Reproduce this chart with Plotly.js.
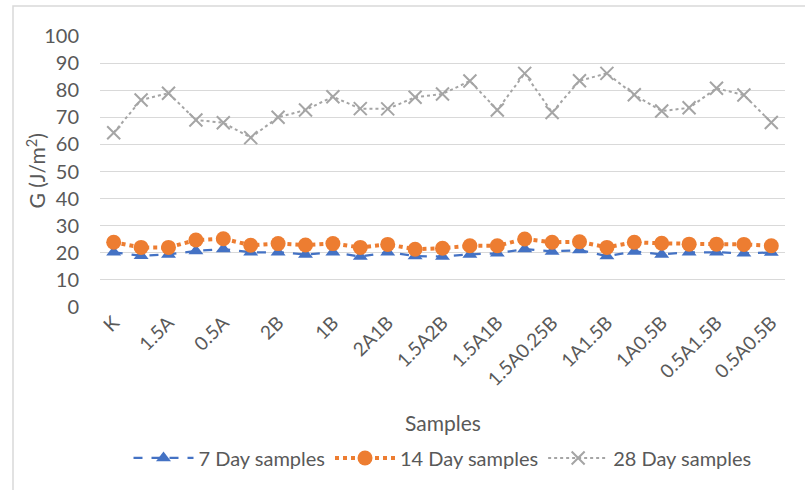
<!DOCTYPE html>
<html>
<head>
<meta charset="utf-8">
<script src="https://cdn.plot.ly/plotly-3.0.1.min.js"></script>
<style>html,body{margin:0;padding:0;background:#fff;}#chart{width:805px;height:490px;}</style>
</head>
<body>
<div id="chart"></div>
<script>
const samples = ["K","2A","1.5A","1A","0.5A","0.25A","2B","1.5B","1B","0.5B","2A1B","2A0.5B","1.5A2B","1.5A1.5B","1.5A1B","1.5A0.5B","1.5A0.25B","1A2B","1A1.5B","1A1B","1A0.5B","0.5A2B","0.5A1.5B","0.5A1B","0.5A0.5B"];
const day7 = [20.2,18.9,19.4,20.7,21.4,20.2,20.2,19.4,20.2,18.6,20.2,18.8,18.6,19.4,19.8,21.4,20.5,21.0,18.8,20.5,19.4,20.2,20.2,19.8,20.1];
const day14 = [23.9,22.0,22.0,24.7,25.2,22.8,23.4,22.9,23.4,22.0,23.1,21.3,21.7,22.6,22.6,25.1,23.9,24.1,22.0,23.9,23.5,23.2,23.2,23.1,22.6];
const day28 = [64.3,76.4,78.9,69.0,68.0,62.5,70.0,72.7,77.6,73.2,73.1,77.4,78.6,83.4,72.7,86.2,71.8,83.5,86.2,78.3,72.3,73.5,80.7,78.2,68.1];
const shownLabels = samples.filter((s, i) => i % 2 === 0);

const font = "Lato, 'Open Sans', sans-serif";
const grey = "#595959";

const traces = [
  {x: samples, y: day7, name: "7 Day samples", type: "scatter", mode: "lines+markers",
   line: {color: "#4472C4", width: 2.25, dash: "dash"},
   marker: {symbol: "triangle-up", size: 13, color: "#4472C4"}},
  {x: samples, y: day14, name: "14 Day samples", type: "scatter", mode: "lines+markers",
   line: {color: "#ED7D31", width: 4, dash: "dot"},
   marker: {symbol: "circle", size: 15, color: "#ED7D31"}},
  {x: samples, y: day28, name: "28 Day samples", type: "scatter", mode: "lines+markers",
   line: {color: "#A5A5A5", width: 2, dash: "dot"},
   marker: {symbol: "x-thin-open", size: 13, color: "#A5A5A5", line: {color: "#A5A5A5", width: 2}}}
];

const layout = {
  width: 805, height: 490,
  margin: {l: 100, r: 20, t: 36, b: 183},
  paper_bgcolor: "#fff", plot_bgcolor: "#fff",
  font: {family: font, color: grey},
  showlegend: true,
  legend: {orientation: "h", x: 0.5, xanchor: "center", y: -0.557, yanchor: "middle",
           font: {size: 20, color: grey, family: font}, traceorder: "normal", itemwidth: 60},
  xaxis: {type: "category", range: [-0.5, samples.length - 0.5], tickmode: "array",
          tickvals: shownLabels, ticktext: shownLabels, tickangle: -45,
          tickfont: {size: 19, color: grey, family: font}, showgrid: false, zeroline: false,
          showline: false, ticks: "", automargin: false},
  yaxis: {range: [0, 100], dtick: 10, tickfont: {size: 20, color: grey, family: font},
          gridcolor: "#d9d9d9", gridwidth: 1, zeroline: false, showline: false, ticks: "",
          ticklabelstandoff: 20, automargin: false},
  annotations: [
    {text: "Samples", xref: "paper", yref: "paper", x: 0.5, y: (307 - 422) / 271,
     showarrow: false, font: {size: 21, color: grey, family: font}, xanchor: "center", yanchor: "middle"},
    {text: "G (J/m<sup>2</sup>)", xref: "paper", yref: "paper", x: (35 - 100) / 685, y: 0.5,
     showarrow: false, textangle: -90, font: {size: 21, color: grey, family: font}, xanchor: "center", yanchor: "middle"}
  ],
  shapes: [
    {type: "rect", xref: "paper", yref: "paper", x0: (13 - 100) / 685, x1: 1.2, y0: -0.8, y1: (307 - 6) / 271,
     line: {color: "#d9d9d9", width: 1.5}, layer: "below"}
  ]
};

Plotly.newPlot("chart", traces, layout, {displayModeBar: false, staticPlot: true});
</script>
</body>
</html>
